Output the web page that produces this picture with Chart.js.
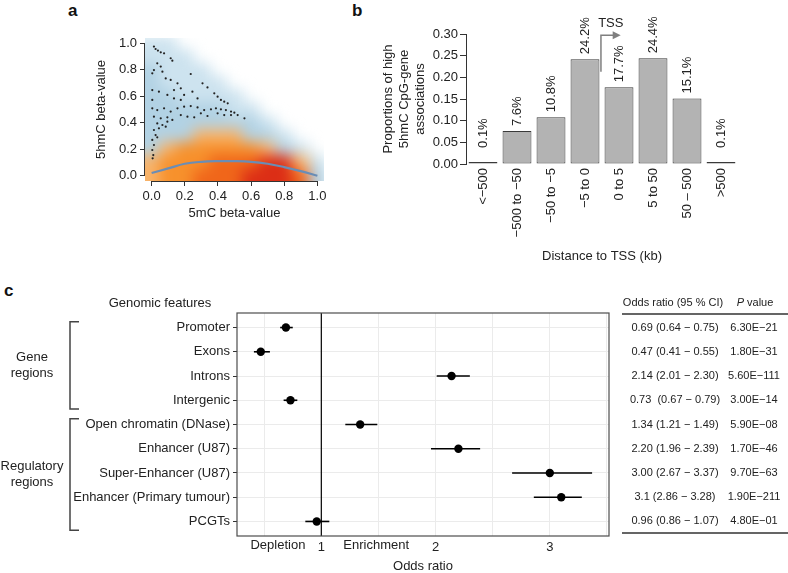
<!DOCTYPE html>
<html>
<head>
<meta charset="utf-8">
<script src="https://cdn.jsdelivr.net/npm/chart.js@4.4.1/dist/chart.umd.min.js"></script>
<style>
  body { margin: 0; background: #fff; width: 788px; height: 573px; position: relative; overflow: hidden;
         font-family: "Liberation Sans", Arial, Helvetica, sans-serif; }
  canvas { position: absolute; }
  .panel { position: absolute; font-weight: bold; font-size: 17px; line-height: 17px; color: #111; }
</style>
</head>
<body>
<div class="panel" style="left:68px;top:2px">a</div>
<div class="panel" style="left:352px;top:2px">b</div>
<div class="panel" style="left:4px;top:282px">c</div>
<canvas id="ca" width="280" height="210" style="left:60px;top:20px"></canvas>
<canvas id="cb" width="418" height="270" style="left:370px;top:0px"></canvas>
<canvas id="cc" width="788" height="293" style="left:0px;top:280px"></canvas>
<script>
// panel a: densité lissée (grille) + points isolés + courbe lowess
const densityX = [0, 0.1, 0.2, 0.3, 0.4, 0.5, 0.6, 0.7, 0.8, 0.9, 1.0];
const densityY = [1.0, 0.9, 0.8, 0.7, 0.6, 0.5, 0.4, 0.3, 0.2, 0.1, 0.0];
const densityGrid = [
  [1, 1, 0, 0, 0, 0, 0, 0, 0, 0, 0],
  [1, 1, 1, 0, 0, 0, 0, 0, 0, 0, 0],
  [2, 1, 1, 1, 0, 0, 0, 0, 0, 0, 0],
  [2, 1, 1, 1, 1, 0, 0, 0, 0, 0, 0],
  [2, 2, 1, 1, 1, 1, 0, 0, 0, 0, 0],
  [2, 2, 2, 2, 2, 1, 1, 0, 0, 0, 0],
  [2, 2, 2, 2, 2, 2, 2, 1, 0, 0, 0],
  [2, 2, 2, 3, 3, 3, 2, 2, 1, 0, 0],
  [2, 3, 4, 4, 4, 4, 4, 3, 2, 1, 0],
  [3, 4, 4, 4, 5, 5, 5, 6, 6, 3, 1],
  [3, 4, 4, 5, 5, 5, 6, 6, 6, 5, 2],
];
const densityColors = [null, '#cde3ef', '#b2d2e4', '#f7b36a', '#f7912c', '#f0661a', '#dc2e16'];

const dotX = [0.014, 0.024, 0.038, 0.055, 0.075, 0.115, 0.125, 0.034, 0.055, 0.014, 0.004, 0.065, 0.085,
  0.115, 0.236, 0.156, 0.176, 0.135, 0.307, 0.337, 0.004, 0.044, 0.095, 0.196, 0.246, 0.378, 0.398, 0.418,
  0.438, 0.459, 0.004, 0.135, 0.176, 0.277, 0.004, 0.034, 0.075, 0.115, 0.156, 0.196, 0.236, 0.277, 0.317,
  0.358, 0.388, 0.418, 0.448, 0.479, 0.499, 0.398, 0.438, 0.479, 0.519, 0.560, 0.176, 0.216, 0.257, 0.297,
  0.337, 0.014, 0.055, 0.095, 0.125, 0.034, 0.065, 0.044, 0.014, 0.024, 0.034, 0.004, 0.014, 0.004, 0.010,
  0.006, 0.095, 0.085];
const dotY = [0.975, 0.957, 0.945, 0.932, 0.924, 0.887, 0.869, 0.849, 0.824, 0.798, 0.773, 0.786, 0.735,
  0.723, 0.768, 0.698, 0.660, 0.647, 0.698, 0.667, 0.647, 0.635, 0.610, 0.610, 0.635, 0.622, 0.597, 0.572,
  0.559, 0.547, 0.572, 0.584, 0.572, 0.584, 0.509, 0.496, 0.509, 0.484, 0.509, 0.521, 0.526, 0.516, 0.496,
  0.501, 0.509, 0.501, 0.496, 0.484, 0.476, 0.471, 0.458, 0.458, 0.458, 0.433, 0.458, 0.446, 0.441, 0.471,
  0.451, 0.446, 0.433, 0.441, 0.421, 0.395, 0.383, 0.358, 0.345, 0.307, 0.290, 0.270, 0.232, 0.194, 0.156,
  0.131, 0.408, 0.370];

const lowessX = [0, 0.1, 0.2, 0.3, 0.4, 0.5, 0.6, 0.7, 0.8, 0.9, 1.0];
const lowessY = [0.02, 0.055, 0.09, 0.105, 0.11, 0.11, 0.105, 0.09, 0.065, 0.035, 0.0];
const ticksA = [0, 0.2, 0.4, 0.6, 0.8, 1.0];

// panel b
const distanceBins = ['<\u2212500', '\u2212500 to \u221250', '\u221250 to \u22125', '\u22125 to 0', '0 to 5', '5 to 50', '50 \u2013 500', '>500'];
const binProportions = [0.001, 0.076, 0.108, 0.242, 0.177, 0.244, 0.151, 0.001];
const binLabels = ['0.1%', '7.6%', '10.8%', '24.2%', '17.7%', '24.4%', '15.1%', '0.1%'];
const ticksB = [0, 0.05, 0.10, 0.15, 0.20, 0.25, 0.30];
const tssLevels = [0.213, 0.297];   // pied et sommet de la flèche TSS
const tssArrowEnd = 4.05;           // position (index de catégorie) de la pointe

// panel c
const features = ['Promoter', 'Exons', 'Introns', 'Intergenic', 'Open chromatin (DNase)', 'Enhancer (U87)',
  'Super-Enhancer (U87)', 'Enhancer (Primary tumour)', 'PCGTs'];
const oddsRatio = [0.69, 0.47, 2.14, 0.73, 1.34, 2.20, 3.00, 3.1, 0.96];
const ciLow = [0.64, 0.41, 2.01, 0.67, 1.21, 1.96, 2.67, 2.86, 0.86];
const ciHigh = [0.75, 0.55, 2.30, 0.79, 1.49, 2.39, 3.37, 3.28, 1.07];
const orLabels = ['0.69 (0.64 \u2212 0.75)', '0.47 (0.41 \u2212 0.55)', '2.14 (2.01 \u2212 2.30)', '0.73  (0.67 \u2212 0.79)',
  '1.34 (1.21 \u2212 1.49)', '2.20 (1.96 \u2212 2.39)', '3.00 (2.67 \u2212 3.37)', '3.1 (2.86 \u2212 3.28)', '0.96 (0.86 \u2212 1.07)'];
const pLabels = ['6.30E\u221221', '1.80E\u221231', '5.60E\u2212111', '3.00E\u221214', '5.90E\u221208', '1.70E\u221246',
  '9.70E\u221263', '1.90E\u2212211', '4.80E\u221201'];
const groupNames = [['Gene', 'regions'], ['Regulatory', 'regions']];
const groupRows = [[1, 4], [5, 9]];
const gridC = [0.5, 1, 1.5, 2, 2.5, 3, 3.5];
const labelledC = [1, 2, 3];
const sideLabels = [['Depletion', 0.62], ['Enrichment', 1.48]];

const FONT = '"Liberation Sans", Arial, Helvetica, sans-serif';
Chart.defaults.font.family = FONT;
Chart.defaults.font.size = 13;
Chart.defaults.color = '#222';
Chart.defaults.animation = false;
Chart.defaults.plugins.legend.display = false;
Chart.defaults.plugins.tooltip.enabled = false;

function fixedTicks(values) {
  return (scale) => { scale.ticks = values.map((v) => ({ value: v })); };
}

// ---------- a ----------
const densityPlugin = {
  id: 'density',
  beforeDatasetsDraw(chart) {
    const { ctx, chartArea: a, scales: { x, y } } = chart;
    // grille dessinée nette hors écran, puis floutée en une seule fois
    const off = document.createElement('canvas');
    off.width = chart.width;
    off.height = chart.height;
    const o = off.getContext('2d');
    densityGrid.forEach((row, r) => row.forEach((lvl, c) => {
      if (!lvl) return;
      const x0 = x.getPixelForValue(c === 0 ? -0.3 : densityX[c] - 0.05);
      const x1 = x.getPixelForValue(densityX[c] + 0.05);
      const y0 = y.getPixelForValue(densityY[r] + 0.05);
      const y1 = y.getPixelForValue(r === densityGrid.length - 1 ? -0.3 : densityY[r] - 0.05);
      o.fillStyle = densityColors[lvl];
      o.fillRect(Math.floor(x0), Math.floor(y0), Math.ceil(x1 - x0) + 1, Math.ceil(y1 - y0) + 1);
    }));
    ctx.save();
    ctx.beginPath();
    ctx.rect(a.left, a.top, a.right - a.left, a.bottom - a.top);
    ctx.clip();
    ctx.filter = 'blur(7px)';
    ctx.drawImage(off, 0, 0);
    ctx.restore();
  },
  afterDraw(chart) {
    // axes façon R : trait limité aux graduations extrêmes
    const { ctx, chartArea: a, scales: { x, y } } = chart;
    ctx.save();
    ctx.strokeStyle = '#333';
    ctx.lineWidth = 1;
    ctx.beginPath();
    ctx.moveTo(x.getPixelForValue(0), a.bottom + 0.5);
    ctx.lineTo(x.getPixelForValue(1), a.bottom + 0.5);
    ctx.moveTo(a.left - 0.5, y.getPixelForValue(0));
    ctx.lineTo(a.left - 0.5, y.getPixelForValue(1));
    ctx.stroke();
    ctx.restore();
  },
};

new Chart(document.getElementById('ca'), {
  type: 'scatter',
  data: {
    datasets: [
      { data: dotX.map((v, i) => ({ x: v, y: dotY[i] })), pointRadius: 1.1, backgroundColor: '#222', borderWidth: 0 },
      { data: lowessX.map((v, i) => ({ x: v, y: lowessY[i] })), showLine: true, pointRadius: 0,
        borderColor: '#6a8db5', borderWidth: 2.2, tension: 0.4 },
    ],
  },
  options: {
    responsive: false,
    layout: { padding: { top: 18, right: 16, bottom: 0, left: 0 } },
    scales: {
      x: {
        type: 'linear', min: -0.04, max: 1.04,
        afterBuildTicks: fixedTicks(ticksA),
        afterFit: (s) => { s.height = 49; },
        border: { display: false },
        grid: { drawOnChartArea: false, tickLength: 5, color: '#333' },
        ticks: { padding: 3, callback: (v) => v.toFixed(1) },
        title: { display: true, text: '5mC beta-value', padding: { top: 0, bottom: 9 } },
      },
      y: {
        type: 'linear', min: -0.04, max: 1.04,
        afterBuildTicks: fixedTicks(ticksA),
        afterFit: (s) => { s.width = 85; },
        border: { display: false },
        grid: { drawOnChartArea: false, tickLength: 5, color: '#333' },
        ticks: { padding: 3, callback: (v) => v.toFixed(1) },
        title: { display: true, text: '5hmC beta-value', padding: { top: 34, bottom: 0 } },
      },
    },
  },
  plugins: [densityPlugin],
});

// ---------- b ----------
const barLabelPlugin = {
  id: 'barLabels',
  afterDatasetsDraw(chart) {
    const { ctx, scales: { x, y } } = chart;
    const bars = chart.getDatasetMeta(0).data;
    ctx.save();
    ctx.font = '13px ' + FONT;
    ctx.fillStyle = '#222';
    ctx.textAlign = 'left';
    ctx.textBaseline = 'middle';
    bars.forEach((bar, i) => {
      const base = Math.min(bar.y - 5, y.getPixelForValue(0.037));
      ctx.save();
      ctx.translate(bar.x, base);
      ctx.rotate(-Math.PI / 2);
      ctx.fillText(binLabels[i], 0, 0);
      ctx.restore();
    });
    // flèche TSS
    const stem = bars[3].x + bars[3].width / 2 + 1.5;
    const yBot = y.getPixelForValue(tssLevels[0]);
    const yTop = y.getPixelForValue(tssLevels[1]);
    const tip = x.getPixelForValue(tssArrowEnd);
    ctx.strokeStyle = '#7f7f7f';
    ctx.fillStyle = '#7f7f7f';
    ctx.lineWidth = 1.5;
    ctx.beginPath();
    ctx.moveTo(stem, yBot);
    ctx.lineTo(stem, yTop);
    ctx.lineTo(tip - 6, yTop);
    ctx.stroke();
    ctx.beginPath();
    ctx.moveTo(tip, yTop);
    ctx.lineTo(tip - 8, yTop - 4);
    ctx.lineTo(tip - 8, yTop + 4);
    ctx.closePath();
    ctx.fill();
    ctx.fillStyle = '#222';
    ctx.textAlign = 'center';
    ctx.fillText('TSS', (stem + tip) / 2, yTop - 12);
    ctx.restore();
  },
};

new Chart(document.getElementById('cb'), {
  type: 'bar',
  data: {
    labels: distanceBins,
    datasets: [{
      data: binProportions,
      // les barres quasi nulles n'apparaissent que comme un trait sombre
      backgroundColor: (c) => (binProportions[c.dataIndex] < 0.005 ? '#3a3a3a' : '#b3b3b3'),
      borderColor: '#3a3a3a', borderWidth: 1, minBarLength: 2,
      borderSkipped: false, barPercentage: 0.85, categoryPercentage: 1.0,
    }],
  },
  options: {
    responsive: false,
    layout: { padding: { top: 34, right: 50, bottom: 0, left: 0 } },
    scales: {
      x: {
        afterFit: (s) => { s.height = 106; },
        border: { display: false },
        grid: { display: false, drawTicks: false },
        ticks: { padding: 4, minRotation: 90, maxRotation: 90, autoSkip: false },
        title: { display: true, text: 'Distance to TSS (kb)', padding: { top: 0, bottom: 6 } },
      },
      y: {
        min: 0, max: 0.30,
        afterBuildTicks: fixedTicks(ticksB),
        afterFit: (s) => { s.width = 96; },
        border: { display: true, color: '#333', width: 1 },
        grid: { drawOnChartArea: false, tickLength: 6, color: '#333' },
        ticks: { padding: 2, callback: (v) => v.toFixed(2) },
        title: {
          display: true, text: ['Proportions of high', '5hmC CpG-gene', 'associations'],
          font: { size: 13, lineHeight: 1.23 }, padding: { top: 10, bottom: 0 },
        },
      },
    },
  },
  plugins: [barLabelPlugin],
});

// ---------- c ----------
const forestPlugin = {
  id: 'forest',
  beforeDatasetsDraw(chart) {
    const { ctx, chartArea: a, scales: { x, y } } = chart;
    ctx.save();
    ctx.strokeStyle = '#000';
    ctx.lineWidth = 1.2;
    ctx.beginPath();
    const vx = x.getPixelForValue(1);
    ctx.moveTo(vx, a.top);
    ctx.lineTo(vx, a.bottom);
    ctx.stroke();
    ctx.lineWidth = 1.6;
    oddsRatio.forEach((_, i) => {
      const py = y.getPixelForValue(i + 1);
      ctx.beginPath();
      ctx.moveTo(x.getPixelForValue(ciLow[i]), py);
      ctx.lineTo(x.getPixelForValue(ciHigh[i]), py);
      ctx.stroke();
    });
    ctx.restore();
  },
  afterDraw(chart) {
    const { ctx, chartArea: a, scales: { x, y } } = chart;
    ctx.save();
    ctx.strokeStyle = '#4d4d4d';
    ctx.lineWidth = 1.2;
    ctx.strokeRect(a.left, a.top, a.right - a.left, a.bottom - a.top);

    ctx.fillStyle = '#222';
    ctx.font = '13px ' + FONT;
    ctx.textAlign = 'center';
    ctx.textBaseline = 'top';
    sideLabels.forEach(([t, v]) => ctx.fillText(t, x.getPixelForValue(v), a.bottom + 3));

    ctx.textBaseline = 'middle';
    ctx.fillText('Genomic features', 160, 23);

    // accolades des groupes
    ctx.strokeStyle = '#444';
    ctx.lineWidth = 1.5;
    groupRows.forEach(([r0, r1], g) => {
      const t = y.getPixelForValue(r0 - 0.24);
      const b = y.getPixelForValue(r1 + 0.36);
      ctx.beginPath();
      ctx.moveTo(79, t);
      ctx.lineTo(70, t);
      ctx.lineTo(70, b);
      ctx.lineTo(79, b);
      ctx.stroke();
      const mid = (t + b) / 2;
      ctx.fillText(groupNames[g][0], 32, mid - 8);
      ctx.fillText(groupNames[g][1], 32, mid + 8);
    });

    // tableau
    ctx.font = '11px ' + FONT;
    ctx.fillText('Odds ratio (95 % CI)', 673, 23);
    ctx.font = 'italic 11px ' + FONT;
    const pw = ctx.measureText('P').width;
    ctx.font = '11px ' + FONT;
    const vw = ctx.measureText(' value').width;
    const px0 = 755 - (pw + vw) / 2;
    ctx.textAlign = 'left';
    ctx.font = 'italic 11px ' + FONT;
    ctx.fillText('P', px0, 23);
    ctx.font = '11px ' + FONT;
    ctx.fillText(' value', px0 + pw, 23);
    ctx.textAlign = 'center';
    features.forEach((_, i) => {
      const py = y.getPixelForValue(i + 1);
      ctx.fillText(orLabels[i], 675, py);
      ctx.fillText(pLabels[i], 754, py);
    });
    ctx.strokeStyle = '#333';
    ctx.lineWidth = 1.4;
    ctx.beginPath();
    ctx.moveTo(622, 34);
    ctx.lineTo(788, 34);
    ctx.moveTo(622, 253);
    ctx.lineTo(788, 253);
    ctx.stroke();
    ctx.restore();
  },
};

new Chart(document.getElementById('cc'), {
  type: 'scatter',
  data: {
    datasets: [{
      data: oddsRatio.map((v, i) => ({ x: v, y: i + 1 })),
      pointRadius: 4.2, backgroundColor: '#000', borderWidth: 0,
    }],
  },
  options: {
    responsive: false,
    layout: { padding: { top: 33, right: 179, bottom: 0, left: 0 } },
    scales: {
      x: {
        type: 'linear', min: 0.262, max: 3.518,
        afterBuildTicks: fixedTicks(gridC),
        afterFit: (s) => { s.height = 37; },
        border: { display: false },
        grid: { color: '#ebebeb', drawTicks: false },
        ticks: { padding: 4, callback: (v) => (labelledC.includes(v) ? String(v) : '') },
        title: { display: true, text: 'Odds ratio', font: { size: 13, lineHeight: 1 }, padding: 0 },
      },
      y: {
        type: 'linear', min: 0.4, max: 9.6, reverse: true,
        afterBuildTicks: fixedTicks(features.map((_, i) => i + 1)),
        afterFit: (s) => { s.width = 237; },
        border: { display: false },
        grid: { color: '#ebebeb', tickColor: '#333', tickLength: 4 },
        ticks: { padding: 3, callback: (v) => features[v - 1] },
      },
    },
  },
  plugins: [forestPlugin],
});
</script>
</body>
</html>
